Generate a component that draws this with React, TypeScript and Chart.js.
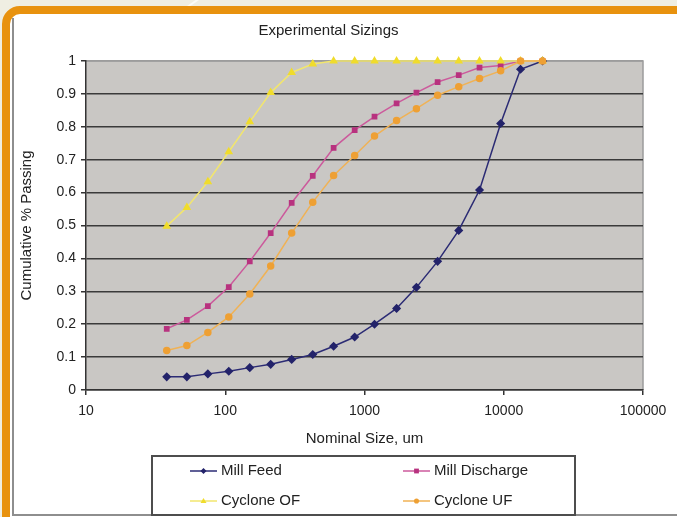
import React, { useEffect, useRef } from 'react';
import { Chart, registerables } from 'chart.js';

Chart.register(...registerables);

// Sieve sizes (um)
const sizes = [38, 53, 75, 106, 150, 212, 300, 425, 600, 850, 1180, 1700, 2360, 3350, 4750, 6700, 9500, 13200, 19000];

const millFeed = [0.04, 0.04, 0.049, 0.057, 0.068, 0.078, 0.093, 0.108, 0.133, 0.161, 0.2, 0.248, 0.312, 0.391, 0.485, 0.608, 0.81, 0.975, 1.0];
const millDischarge = [0.186, 0.213, 0.255, 0.313, 0.391, 0.477, 0.569, 0.651, 0.736, 0.79, 0.831, 0.871, 0.904, 0.936, 0.957, 0.98, 0.986, 1.0, 1.0];
const cycloneOF = [0.498, 0.555, 0.633, 0.724, 0.815, 0.904, 0.965, 0.991, 1, 1, 1, 1, 1, 1, 1, 1, 1, 1, 1];
const cycloneUF = [0.12, 0.135, 0.175, 0.222, 0.292, 0.377, 0.477, 0.571, 0.652, 0.713, 0.772, 0.819, 0.855, 0.896, 0.922, 0.947, 0.97, 1.0, 1.0];

const seriesLabels = ['Mill Feed', 'Mill Discharge', 'Cyclone OF', 'Cyclone UF'];

const xTickValues = [10, 100, 1000, 10000, 100000];
const xTickLabels = ['10', '100', '1000', '10000', '100000'];
const yTickLabels = ['0', '0.1', '0.2', '0.3', '0.4', '0.5', '0.6', '0.7', '0.8', '0.9', '1'];

const FONT = "'Liberation Sans', Arial, sans-serif";

const toPoints = (vals: number[]) => sizes.map((x, i) => ({ x, y: vals[i] }));

function drawMarker(ctx: CanvasRenderingContext2D, style: string, x: number, y: number, r: number, color: string) {
  ctx.save();
  ctx.fillStyle = color;
  ctx.beginPath();
  if (style === 'rectRot') {
    ctx.moveTo(x, y - r);
    ctx.lineTo(x + r, y);
    ctx.lineTo(x, y + r);
    ctx.lineTo(x - r, y);
    ctx.closePath();
  } else if (style === 'rect') {
    ctx.rect(x - r * 0.8, y - r * 0.8, r * 1.6, r * 1.6);
  } else if (style === 'triangle') {
    ctx.moveTo(x, y - r);
    ctx.lineTo(x + r, y + r * 0.7);
    ctx.lineTo(x - r, y + r * 0.7);
    ctx.closePath();
  } else {
    ctx.arc(x, y, r * 0.85, 0, Math.PI * 2);
  }
  ctx.fill();
  ctx.restore();
}

const plotBgPlugin = {
  id: 'plotBg',
  beforeDraw(chart: any) {
    const { ctx, chartArea } = chart;
    if (!chartArea) return;
    ctx.save();
    ctx.fillStyle = '#c9c7c4';
    ctx.fillRect(chartArea.left, chartArea.top, chartArea.right - chartArea.left, chartArea.bottom - chartArea.top);
    ctx.strokeStyle = '#9c9c9c';
    ctx.lineWidth = 1.5;
    ctx.beginPath();
    ctx.moveTo(chartArea.left, chartArea.top);
    ctx.lineTo(chartArea.right, chartArea.top);
    ctx.lineTo(chartArea.right, chartArea.bottom);
    ctx.stroke();
    ctx.restore();
  },
};

const legendPlugin = {
  id: 'boxLegend',
  afterDraw(chart: any) {
    const ctx: CanvasRenderingContext2D = chart.ctx;
    ctx.save();
    ctx.strokeStyle = '#4d4d4d';
    ctx.lineWidth = 2;
    ctx.strokeRect(152, 456, 423, 59);
    const pos = [
      [190, 471],
      [403, 471],
      [190, 501],
      [403, 501],
    ];
    chart.data.datasets.forEach((ds: any, i: number) => {
      const [x, y] = pos[i];
      ctx.strokeStyle = ds.borderColor;
      ctx.lineWidth = 1.5;
      ctx.beginPath();
      ctx.moveTo(x, y);
      ctx.lineTo(x + 27, y);
      ctx.stroke();
      drawMarker(ctx, ds.pointStyle, x + 13.5, y, 3, ds.pointBackgroundColor);
      ctx.fillStyle = '#222';
      ctx.font = `15px ${FONT}`;
      ctx.textBaseline = 'middle';
      ctx.textAlign = 'left';
      ctx.fillText(ds.label, x + 31, y);
    });
    ctx.restore();
  },
};

export default function App() {
  const ref = useRef<HTMLCanvasElement | null>(null);

  useEffect(() => {
    if (!ref.current) return;
    const chart = new Chart(ref.current, {
      type: 'line',
      data: {
        datasets: [
          {
            label: seriesLabels[0],
            data: toPoints(millFeed),
            borderColor: '#2b2b74',
            backgroundColor: '#2b2b74',
            pointBackgroundColor: '#23236a',
            pointBorderColor: '#23236a',
            pointStyle: 'rectRot',
            pointRadius: 3.5,
            borderWidth: 1.5,
            order: 4,
            clip: false,
          },
          {
            label: seriesLabels[1],
            data: toPoints(millDischarge),
            borderColor: '#cc5a9c',
            backgroundColor: '#cc5a9c',
            pointBackgroundColor: '#b8327f',
            pointBorderColor: '#b8327f',
            pointStyle: 'rect',
            pointRadius: 3,
            borderWidth: 1.5,
            order: 3,
            clip: false,
          },
          {
            label: seriesLabels[2],
            data: toPoints(cycloneOF),
            borderColor: '#f2e66e',
            backgroundColor: '#f2e66e',
            pointBackgroundColor: '#f0dc2c',
            pointBorderColor: '#f0dc2c',
            pointStyle: 'triangle',
            pointRadius: 3.5,
            borderWidth: 1.5,
            order: 2,
            clip: false,
          },
          {
            label: seriesLabels[3],
            data: toPoints(cycloneUF),
            borderColor: '#f0b255',
            backgroundColor: '#f0b255',
            pointBackgroundColor: '#eea034',
            pointBorderColor: '#eea034',
            pointStyle: 'circle',
            pointRadius: 3,
            borderWidth: 1.5,
            order: 1,
            clip: false,
          },
        ],
      },
      options: {
        responsive: false,
        animation: false,
        devicePixelRatio: 1,
        layout: { padding: { left: 14, right: 34, top: 14, bottom: 69 } },
        plugins: {
          legend: { display: false },
          tooltip: { enabled: false },
          title: {
            display: true,
            text: 'Experimental Sizings',
            color: '#222',
            font: { family: FONT, size: 15, weight: 'normal' },
            padding: { top: 8, bottom: 21 },
          },
        },
        scales: {
          x: {
            type: 'logarithmic',
            min: 10,
            max: 100000,
            afterBuildTicks: (scale: any) => {
              scale.ticks = xTickValues.map((v) => ({ value: v, major: true }));
            },
            afterFit: (scale: any) => {
              scale.height = 58;
            },
            ticks: {
              color: '#222',
              font: { family: FONT, size: 14 },
              padding: 8,
              maxRotation: 0,
              autoSkip: false,
              callback: (v: any) => {
                const idx = xTickValues.indexOf(Number(v));
                return idx >= 0 ? xTickLabels[idx] : '';
              },
            },
            grid: { drawOnChartArea: false, drawTicks: true, tickLength: 5, tickColor: '#333', lineWidth: 1.5 },
            border: { color: '#333', width: 1.5 },
            title: {
              display: true,
              text: 'Nominal Size, um',
              color: '#222',
              font: { family: FONT, size: 15 },
              padding: { top: 0, bottom: 0 },
            },
          },
          y: {
            min: 0,
            max: 1,
            afterFit: (scale: any) => {
              scale.width = 72;
            },
            ticks: {
              stepSize: 0.1,
              color: '#222',
              font: { family: FONT, size: 14 },
              padding: 5,
              callback: (_v: any, i: number) => yTickLabels[i],
            },
            grid: {
              color: (c: any) => (c.tick && Math.abs(c.tick.value - 1) < 1e-6 ? '#9c9c9c' : '#3a3a3a'),
              lineWidth: 1.5,
              tickLength: 5,
              tickColor: '#333',
            },
            border: { color: '#333', width: 1.5 },
            title: {
              display: true,
              text: 'Cumulative % Passing',
              color: '#222',
              font: { family: FONT, size: 15 },
              padding: { top: 4, bottom: 0 },
            },
          },
        },
      },
      plugins: [plotBgPlugin, legendPlugin],
    } as any);
    return () => chart.destroy();
  }, []);

  return (
    <div style={{ position: 'fixed', left: 0, top: 0, width: 677, height: 517, overflow: 'hidden', background: '#efeee2' }}>
      <div
        style={{
          position: 'absolute',
          left: 182,
          top: -10,
          width: 2,
          height: 40,
          background: '#fbfbf6',
          transform: 'rotate(55deg)',
          transformOrigin: 'center',
        }}
      />
      <div
        style={{
          position: 'absolute',
          left: 2,
          top: 6,
          width: 700,
          height: 540,
          boxSizing: 'border-box',
          border: '8px solid #e8920e',
          borderRadius: 18,
          background: '#ffffff',
        }}
      />
      <div style={{ position: 'absolute', left: 12, top: 18, width: 2, height: 498, background: '#8e8e8e' }} />
      <div style={{ position: 'absolute', left: 12, top: 514, width: 680, height: 2, background: '#8e8e8e' }} />
      <canvas ref={ref} width={677} height={517} style={{ position: 'absolute', left: 0, top: 0, width: 677, height: 517 }} />
    </div>
  );
}
